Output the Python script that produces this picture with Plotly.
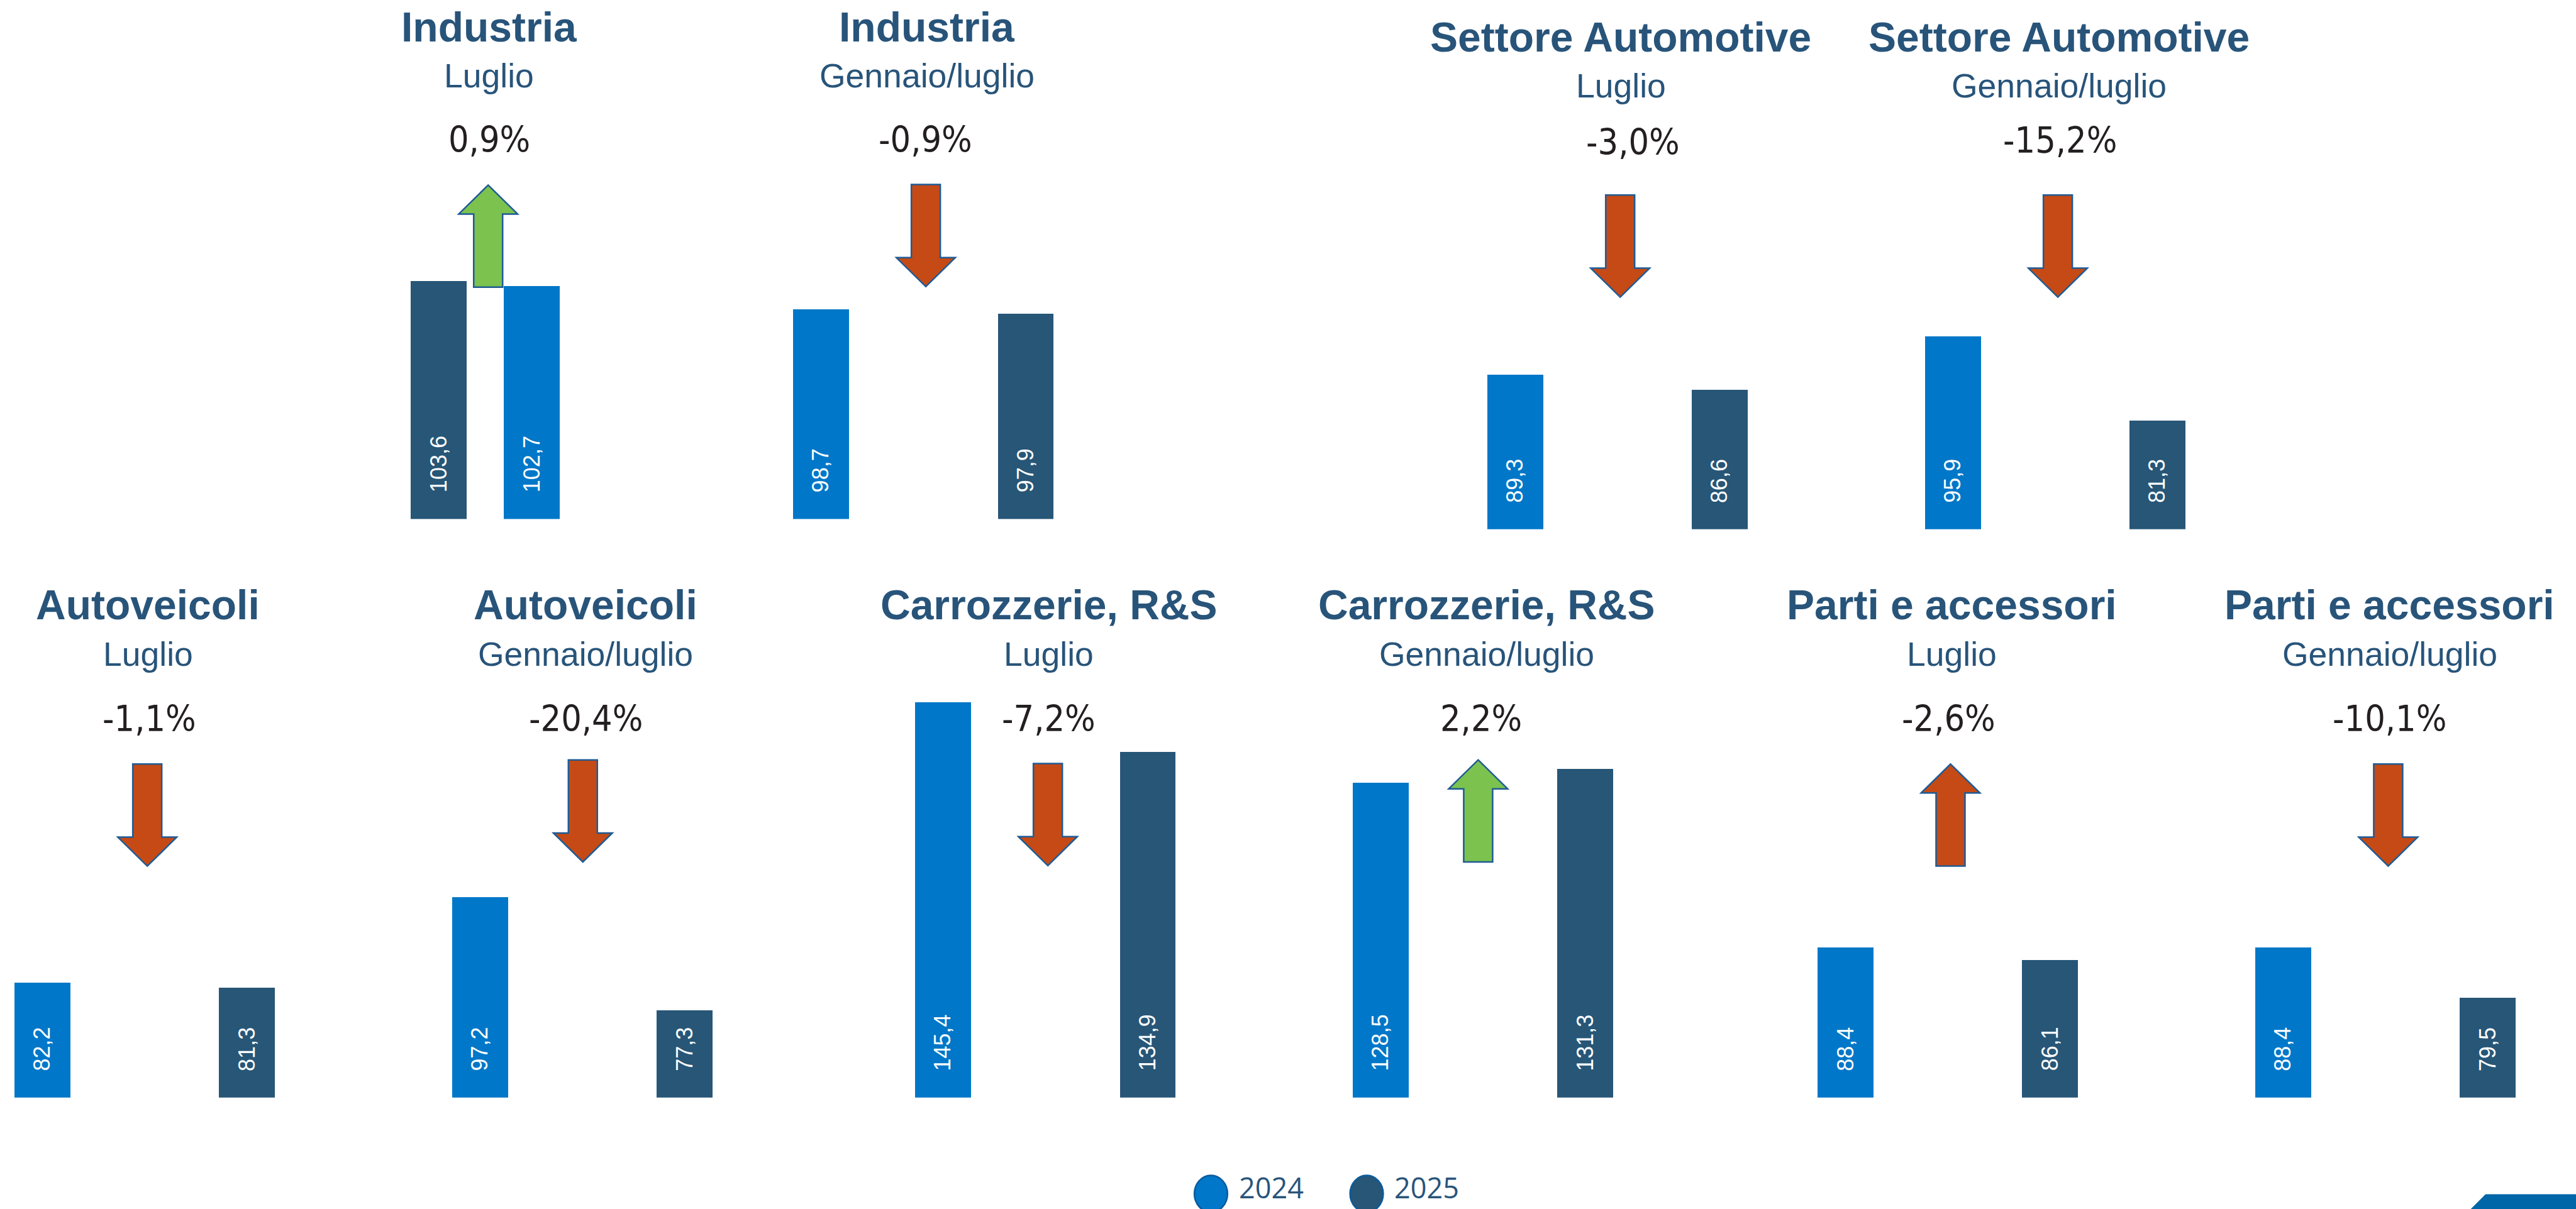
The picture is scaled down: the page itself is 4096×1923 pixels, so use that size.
import plotly.graph_objects as go

# ---------------- data ----------------
titles = ["Industria", "Industria", "Settore Automotive", "Settore Automotive",
          "Autoveicoli", "Autoveicoli", "Carrozzerie, R&S", "Carrozzerie, R&S",
          "Parti e accessori", "Parti e accessori"]
periods = ["Luglio", "Gennaio/luglio", "Luglio", "Gennaio/luglio", "Luglio",
           "Gennaio/luglio", "Luglio", "Gennaio/luglio", "Luglio", "Gennaio/luglio"]
years = ["2024", "2025"]
values_2024 = [102.7, 98.7, 89.3, 95.9, 82.2, 97.2, 145.4, 128.5, 88.4, 88.4]
values_2025 = [103.6, 97.9, 86.6, 81.3, 81.3, 77.3, 134.9, 131.3, 86.1, 79.5]
changes = ["0,9%", "-0,9%", "-3,0%", "-15,2%", "-1,1%", "-20,4%", "-7,2%", "2,2%", "-2,6%", "-10,1%"]
arrow_direction = ["up", "down", "down", "down", "down", "down", "down", "up", "up", "down"]
first_bar_year = ["2025", "2024", "2024", "2024", "2024", "2024", "2024", "2024", "2024", "2024"]

# ---------------- styles ----------------
BLUE = "#0077C8"
DARK = "#275677"
TITLE_C = "#28547A"
PCT_C = "#231F20"
RED = "#C54A16"
GREEN = "#7BC24F"
ARROW_LINE = "#1F5B94"
YEAR_COLOR = {"2024": BLUE, "2025": DARK}
arrow_fill = [GREEN, RED, RED, RED, RED, RED, RED, GREEN, RED, RED]

# ---------------- geometry (reference pixel space 4897x2299) ----------------
W, H = 4096, 1923
OFF = 0
S = 4096 / 4897


def PX(X):
    return (X * S - OFF) / W


def PY(Y):
    return 1 - (Y * S - OFF) / H


bar_centers = [(834, 1011), (1560, 1949.5), (2880, 3269), (3712, 4101), (80, 469),
               (912, 1301), (1792, 2181.5), (2624, 3013), (3508, 3897), (4340, 4729)]
bar_bottom = [987, 987, 1006.5, 1006.5, 2087, 2087, 2087, 2087, 2087, 2087]
px_per_unit = [11, 11, 11, 11, 10.8, 10.8, 9.0, 9.0, 10.8, 10.8]
axis_min = [62.5, 62.5, 62.5, 62.5, 62, 62, 62, 62, 62, 62]
BAR_W = 106
DOM_H = 800
MARGIN_X = 60

title_x = [930, 1762, 3081, 3914, 281, 1113, 1994, 2826, 3710, 4543]
pct_x = [930, 1759, 3104, 3916, 284, 1114, 1994, 2815, 3705, 4542]
title_y = [51, 51, 70, 70, 1150, 1150, 1150, 1150, 1150, 1150]
sub_y = [143.5, 143.5, 163.5, 163.5, 1243.5, 1243.5, 1243.5, 1243.5, 1243.5, 1243.5]
pct_y = [265.5, 265.5, 270.5, 267, 1366.5, 1366.5, 1366.5, 1366.5, 1366.5, 1366.5]
arrow_pos = [(928, 352), (1760, 351), (3080, 371), (3912, 371), (280, 1453),
             (1108, 1445), (1992, 1452), (2810, 1445), (3708, 1453), (4540, 1453)]

TITLE_FONT = "Liberation Sans, Arial, sans-serif"
PCT_FONT = "Liberation Sans Narrow, DejaVu Sans Condensed, Liberation Sans, sans-serif"

fig = go.Figure()
annotations = []
shapes = []

for i in range(10):
    n = i + 1
    xa = "x" if n == 1 else f"x{n}"
    ya = "y" if n == 1 else f"y{n}"
    c1, c2 = bar_centers[i]
    d = c2 - c1
    dom_l = c1 - MARGIN_X
    dom_r = c2 + MARGIN_X
    r_l = -(c1 - dom_l) / d
    r_r = 1 + (dom_r - c2) / d
    order = [first_bar_year[i], "2025" if first_bar_year[i] == "2024" else "2024"]
    vals = [values_2024[i] if y == "2024" else values_2025[i] for y in order]
    cols = [YEAR_COLOR[y] for y in order]
    fig.add_trace(go.Bar(
        x=[0, 1], y=vals, width=BAR_W / d, marker=dict(color=cols, line=dict(width=0)),
        xaxis=xa, yaxis=ya, showlegend=False, hoverinfo="skip"))
    k = px_per_unit[i]
    v0 = axis_min[i]
    fig.update_layout({
        ("xaxis" if n == 1 else f"xaxis{n}"): dict(
            domain=[PX(dom_l), PX(dom_r)], range=[r_l, r_r], visible=False,
            anchor=ya, fixedrange=True),
        ("yaxis" if n == 1 else f"yaxis{n}"): dict(
            domain=[PY(bar_bottom[i]), PY(bar_bottom[i] - DOM_H)],
            range=[v0, v0 + DOM_H / k], visible=False, anchor=xa, fixedrange=True),
    })
    # value labels inside bars
    for j, v in enumerate(vals):
        annotations.append(dict(
            x=j, y=v0, xref=xa, yref=ya, text=f"{v:.1f}".replace(".", ","),
            textangle=-90, showarrow=False, xanchor="center", yanchor="bottom",
            yshift=40, font=dict(family=TITLE_FONT, size=36, color="white")))
    # titles
    annotations.append(dict(
        x=PX(title_x[i]), y=PY(title_y[i]), xref="paper", yref="paper",
        text=f"<b>{titles[i]}</b>", showarrow=False, xanchor="center", yanchor="middle",
        font=dict(family=TITLE_FONT, size=66, color=TITLE_C)))
    annotations.append(dict(
        x=PX(title_x[i]), y=PY(sub_y[i]), xref="paper", yref="paper",
        text=periods[i], showarrow=False, xanchor="center", yanchor="middle",
        font=dict(family=TITLE_FONT, size=53.5, color=TITLE_C)))
    annotations.append(dict(
        x=PX(pct_x[i]), y=PY(pct_y[i]), xref="paper", yref="paper",
        text=changes[i], showarrow=False, xanchor="center", yanchor="middle",
        font=dict(family=PCT_FONT, size=57, color=PCT_C)))
    # arrow
    cx, yt = arrow_pos[i]
    L, HEAD, HW, SW = 194, 55, 56, 27.5
    if arrow_direction[i] == "down":
        pts = [(cx - SW, yt), (cx + SW, yt), (cx + SW, yt + L - HEAD), (cx + HW, yt + L - HEAD),
               (cx, yt + L), (cx - HW, yt + L - HEAD), (cx - SW, yt + L - HEAD)]
    else:
        pts = [(cx, yt), (cx + HW, yt + HEAD), (cx + SW, yt + HEAD), (cx + SW, yt + L),
               (cx - SW, yt + L), (cx - SW, yt + HEAD), (cx - HW, yt + HEAD)]
    path = "M " + " L ".join(f"{PX(a):.5f},{PY(b):.5f}" for a, b in pts) + " Z"
    shapes.append(dict(type="path", xref="paper", yref="paper", path=path,
                       fillcolor=arrow_fill[i], line=dict(color=ARROW_LINE, width=2.5),
                       layer="above"))

# legend (drawn manually so the circles keep their size)
legend_items = [(2302, 2417), (2598, 2712)]
for yr, (cxl, tx) in zip(years, legend_items):
    shapes.append(dict(type="circle", xref="paper", yref="paper",
                       x0=PX(cxl - 31.5), x1=PX(cxl + 31.5), y0=PY(2305), y1=PY(2235),
                       fillcolor=YEAR_COLOR[yr], line=dict(color="#0B5A9C", width=2.5)))
    annotations.append(dict(
        x=PX(tx), y=PY(2258), xref="paper", yref="paper", text=yr, showarrow=False,
        xanchor="center", yanchor="middle",
        font=dict(family="Open Sans, Noto Sans, sans-serif", size=45, color=TITLE_C)))

# decorative corner band
deco = [(4725, 2271), (4897, 2271), (4897, 2299), (4697, 2299)]
shapes.append(dict(type="path", xref="paper", yref="paper",
                   path="M " + " L ".join(f"{PX(a):.5f},{PY(b):.5f}" for a, b in deco) + " Z",
                   fillcolor="#0066A8", line=dict(width=0)))

fig.update_layout(
    width=W, height=H, margin=dict(l=0, r=0, t=0, b=0),
    paper_bgcolor="white", plot_bgcolor="rgba(0,0,0,0)",
    annotations=annotations, shapes=shapes, showlegend=False,
    bargap=0,
)

fig.write_html("out.html", config={"displayModeBar": False},
               post_script="document.body.style.margin='0';document.body.style.overflow='hidden';")
